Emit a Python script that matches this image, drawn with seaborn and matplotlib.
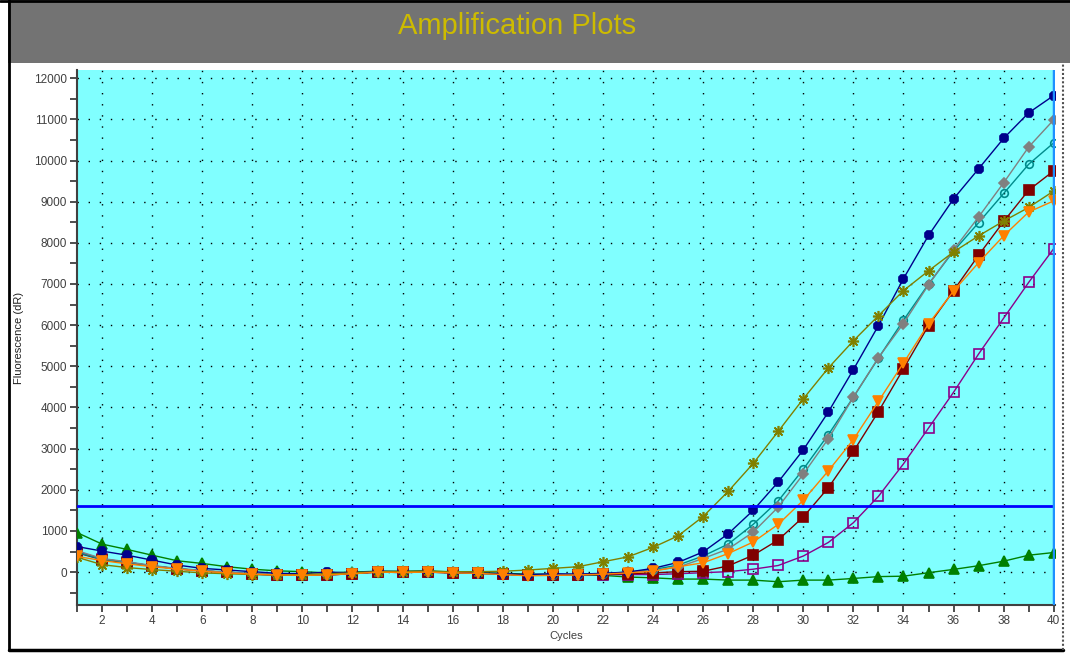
import numpy as np
import pandas as pd
import seaborn as sns
import matplotlib.pyplot as plt
from matplotlib.patches import Rectangle
from matplotlib.lines import Line2D
from matplotlib.ticker import MultipleLocator

cycles = list(range(1, 41))

navy = [620, 510, 410, 290, 170, 90, 50, 10, -30, -40, 0, -20, 20, 10, 20, -10, -20, -40, -60, -40,
        -50, -30, 0, 90, 235, 490, 930, 1500, 2190, 2970, 3890, 4920, 5990, 7130, 8180, 9070, 9800, 10540, 11160, 11580]
gray = [520, 330, 250, 160, 90, 40, 0, -40, -60, -70, -60, -30, 10, 0, 10, -10, -30, -50, -80, -70,
        -60, -40, -10, 40, 120, 330, 560, 970, 1580, 2380, 3240, 4250, 5210, 6040, 6980, 7830, 8630, 9460, 10330, 10990]
teal = [480, 310, 240, 150, 80, 30, -10, -40, -60, -70, -60, -30, 10, 0, 0, -10, -30, -50, -80, -60,
        -60, -40, 0, 60, 170, 390, 680, 1160, 1730, 2500, 3340, 4250, 5200, 6120, 7000, 7800, 8490, 9200, 9910, 10430]
darkred = [470, 300, 230, 150, 80, 30, -10, -50, -70, -80, -70, -40, 0, -10, 0, -20, -30, -50, -80, -70,
           -60, -50, -40, -20, 10, 20, 150, 410, 780, 1340, 2050, 2930, 3900, 4940, 5990, 6840, 7700, 8520, 9280, 9750]
olive = [360, 180, 110, 60, 20, -20, -40, -60, -70, -60, -40, -20, 10, 10, 20, 10, 10, 20, 50, 90,
         130, 250, 370, 600, 880, 1350, 1960, 2640, 3420, 4210, 4960, 5620, 6230, 6840, 7320, 7780, 8170, 8530, 8860, 9260]
orange = [380, 280, 200, 130, 70, 20, -20, -50, -70, -80, -70, -40, 0, -10, 0, -20, -30, -60, -90, -80,
          -70, -50, -20, 20, 130, 225, 450, 730, 1160, 1745, 2460, 3220, 4150, 5080, 6030, 6830, 7520, 8170, 8750, 9020]
purple = [500, 320, 240, 150, 80, 30, -10, -50, -70, -80, -70, -40, 0, -10, 0, -20, -30, -50, -80, -70,
          -70, -60, -60, -60, -40, -15, 10, 70, 160, 390, 720, 1200, 1840, 2630, 3500, 4370, 5300, 6170, 7040, 7860]
green = [960, 680, 550, 410, 275, 210, 130, 70, 30, 10, -20, 0, 20, 20, 30, 0, -10, -30, -50, -60,
         -70, -80, -120, -140, -170, -170, -195, -195, -235, -195, -195, -155, -110, -100, -15, 65, 155, 265, 410, 475]

threshold = 1600

# (values, line colour, marker, filled, marker size)
series = [
    (green, "#008000", "^", True, 6.5),
    (purple, "#8B008B", "s", False, 6.5),
    (darkred, "#800000", "s", True, 6.5),
    (teal, "#008B8B", "o", False, 5.5),
    (gray, "#808080", "D", True, 5.5),
    (navy, "#00008B", "8", True, 7),
    (olive, "#808000", (8, 2, 0), True, 8),
    (orange, "#FF8000", "v", True, 7),
]

sns.set_style("white")
plt.rcParams['font.family'] = ['Liberation Sans', 'DejaVu Sans']

fig = plt.figure(figsize=(10.7, 6.53), dpi=100)
W, H = 1070, 653

# title bar and frame
fig.patches.append(Rectangle((8 / W, 1 - 63 / H), 1 - 8 / W, 63 / H, transform=fig.transFigure,
                             facecolor="#737373", edgecolor="none", zorder=0))
fig.lines.append(Line2D([0, 1], [1 - 1 / H, 1 - 1 / H], transform=fig.transFigure, color="black", lw=2))
fig.lines.append(Line2D([9 / W, 9 / W], [1 - 650 / H, 1], transform=fig.transFigure, color="black", lw=2))
fig.lines.append(Line2D([9 / W, 1063 / W], [1 - 650 / H, 1 - 650 / H], transform=fig.transFigure, color="black", lw=2.5))
fig.lines.append(Line2D([1063 / W, 1063 / W], [1 - 650 / H, 1 - 63 / H], transform=fig.transFigure,
                        color="#505050", lw=1.5, linestyle=(0, (1, 1))))
fig.text(517 / W, 1 - 26 / H, "Amplification Plots", ha="center", va="center",
         fontsize=21, color="#CDBB00")

ax = fig.add_axes([77 / W, 1 - 605 / H, (1055 - 77) / W, (605 - 70) / H])
ax.set_facecolor("#80FFFF")

for vals, col, mk, filled, ms in series:
    sns.lineplot(x=cycles, y=vals, ax=ax, color=col, lw=1, marker=mk, markersize=ms,
                 markerfacecolor=col if filled else "none", markeredgecolor=col,
                 markeredgewidth=1.2, zorder=3)

ax.axhline(threshold, color="#0000FF", lw=2, zorder=4)
ax.axvline(40, color="#1E90FF", lw=2.5, zorder=4)

ax.set_xlim(1, 40.05)
ax.set_ylim(-800, 12200)
ax.xaxis.set_minor_locator(MultipleLocator(1))
ax.yaxis.set_minor_locator(MultipleLocator(500))
ax.set_xticks(range(2, 41, 2))
ax.set_yticks(range(0, 12001, 1000))
ax.tick_params(axis="both", which="both", direction="out", length=5, width=1.3,
               color="#404040", labelsize=8.5, labelcolor="#404040", pad=2,
               bottom=True, left=True)
ax.grid(True, which="major", color="black", lw=1, linestyle=(0, (1, 7)))

for s in ["top", "right"]:
    ax.spines[s].set_visible(False)
for s in ["left", "bottom"]:
    ax.spines[s].set_color("#404040")
    ax.spines[s].set_linewidth(1.5)

ax.set_xlabel("Cycles", fontsize=8, color="#404040", labelpad=3)
ax.set_ylabel("Fluorescence (dR)", fontsize=8, color="#202020")
ax.yaxis.set_label_coords(-53 / (1055 - 77), 0.5)

fig.savefig("out.png", dpi=100)
